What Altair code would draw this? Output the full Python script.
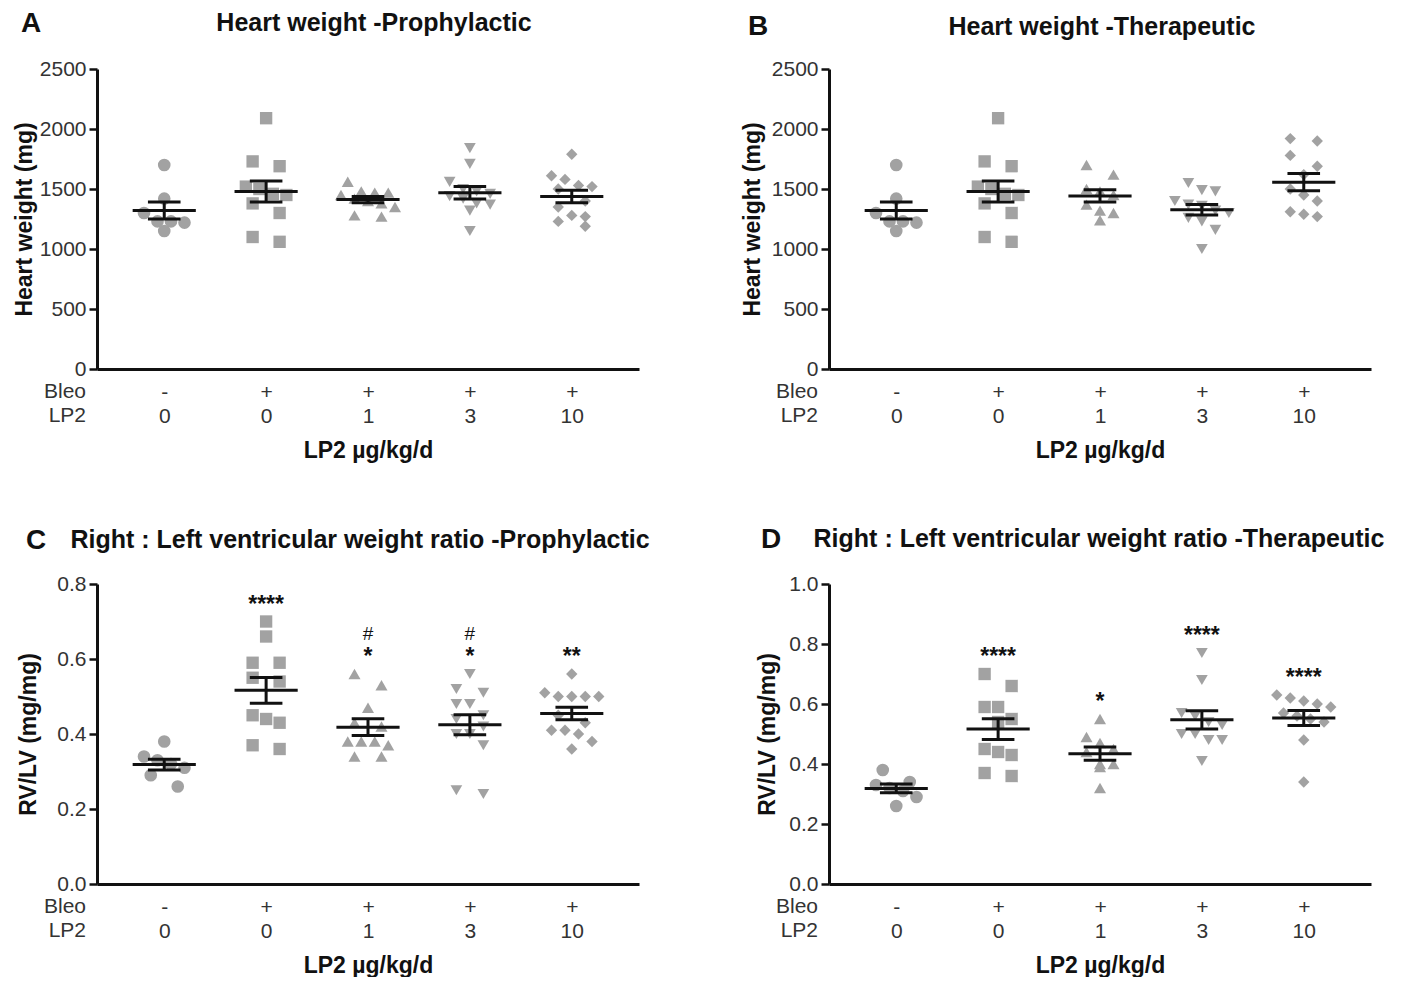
import json
import altair as alt
import pandas as pd

# ---------------- data ----------------
bleo_labels = ["-", "+", "+", "+", "+"]
lp2_labels = ["0", "0", "1", "3", "10"]
group_shapes = ["circle", "square", "triangle-up", "triangle-down", "diamond"]

hw_prophylactic = [
    [1700, 1420, 1300, 1230, 1230, 1220, 1150],
    [2090, 1730, 1690, 1520, 1500, 1460, 1450, 1380, 1300, 1100, 1060],
    [1560, 1480, 1470, 1470, 1450, 1420, 1400, 1380, 1350, 1280, 1270],
    [1840, 1710, 1560, 1500, 1480, 1460, 1440, 1420, 1380, 1370, 1320, 1150],
    [1790, 1610, 1580, 1530, 1520, 1500, 1400, 1350, 1280, 1270, 1230, 1190],
]
hw_therapeutic = [
    [1700, 1420, 1300, 1230, 1230, 1220, 1150],
    [2090, 1730, 1690, 1520, 1500, 1460, 1450, 1380, 1300, 1100, 1060],
    [1700, 1620, 1500, 1480, 1450, 1370, 1320, 1300, 1240],
    [1550, 1490, 1480, 1400, 1370, 1360, 1320, 1300, 1260, 1230, 1160, 1000],
    [1920, 1900, 1780, 1690, 1620, 1500, 1450, 1400, 1310, 1290, 1270],
]
rvlv_prophylactic = [
    [0.38, 0.34, 0.33, 0.32, 0.31, 0.29, 0.26],
    [0.70, 0.66, 0.59, 0.59, 0.55, 0.54, 0.45, 0.44, 0.43, 0.37, 0.36],
    [0.56, 0.53, 0.47, 0.43, 0.42, 0.38, 0.38, 0.38, 0.37, 0.34, 0.34],
    [0.56, 0.52, 0.51, 0.48, 0.48, 0.45, 0.44, 0.42, 0.40, 0.40, 0.37, 0.25, 0.24],
    [0.56, 0.51, 0.50, 0.50, 0.50, 0.50, 0.45, 0.43, 0.41, 0.41, 0.40, 0.38, 0.36],
]
rvlv_therapeutic = [
    [0.38, 0.34, 0.33, 0.32, 0.31, 0.29, 0.26],
    [0.70, 0.66, 0.59, 0.59, 0.55, 0.54, 0.45, 0.44, 0.43, 0.37, 0.36],
    [0.55, 0.49, 0.47, 0.45, 0.44, 0.40, 0.40, 0.39, 0.32],
    [0.77, 0.68, 0.57, 0.56, 0.54, 0.53, 0.50, 0.50, 0.48, 0.48, 0.41],
    [0.63, 0.62, 0.61, 0.60, 0.59, 0.57, 0.56, 0.55, 0.54, 0.48, 0.34],
]
# significance marks: (group, text, level above the group's highest point)
ann_rvlv_prophylactic = [(1, "****", 0), (2, "*", 0), (2, "#", 1), (3, "*", 0), (3, "#", 1), (4, "**", 0)]
ann_rvlv_therapeutic = [(1, "****", 0), (2, "*", 0), (3, "****", 0), (4, "****", 0)]

# ---------------- layout constants ----------------
W, H = 542, 300
XDOM = [-0.66, 4.66]
PX_PER_UNIT = W / (XDOM[1] - XDOM[0])
SLOT = 13.5 / PX_PER_UNIT
FONT = "Liberation Sans"
GREY = "#a2a2a2"
TICK_FS = 21
AXTITLE_FS = 23


def swarm(vals, thr):
    order = sorted(range(len(vals)), key=lambda i: -vals[i])
    bins = []
    for i in order:
        if bins and bins[-1][0] - vals[i] <= thr:
            bins[-1][1].append(i)
        else:
            bins.append([vals[i], [i]])
    slots = [0.0] * len(vals)
    for _, members in bins:
        k = len(members)
        mult = 2.0 if k == 2 else 1.0
        for j, i in enumerate(members):
            slots[i] = (j - (k - 1) / 2) * mult
    return slots


label_expr = "[{b}[datum.value], {l}[datum.value]]".format(
    b=json.dumps(bleo_labels), l=json.dumps(lp2_labels))


def panel(values, ymax, ystep, yfmt, ytitle, title, title_dx, title_dy,
          letter, letter_dx, letter_dy, ytitle_x, ann=None):
    thr = 13 * ymax / H
    rows = []
    for g, vals in enumerate(values):
        for v, s in zip(vals, swarm(vals, thr)):
            rows.append({"g": g, "gname": "g%d" % g, "slot": s, "v": v})
    df = pd.DataFrame(rows)

    xscale = alt.Scale(domain=XDOM, nice=False, zero=False)
    yscale = alt.Scale(domain=[0, ymax], nice=False)
    nt = int(round(ymax / ystep))
    xaxis = alt.Axis(values=[0, 1, 2, 3, 4], labelExpr=label_expr, ticks=False, grid=False,
                     labelLineHeight=24, labelPadding=12, labelFontSize=TICK_FS, labelColor="#333",
                     labelFont=FONT, labelAngle=0,
                     title="LP2 µg/kg/d", titleFontSize=AXTITLE_FS, titleFontWeight="bold",
                     titleColor="#111", titleFont=FONT, titlePadding=13,
                     domainColor="#111", domainWidth=3)
    yaxis = alt.Axis(values=[round(i * ystep, 3) for i in range(nt + 1)], format=yfmt,
                     grid=False, tickSize=8, tickWidth=2.5, tickColor="#111",
                     labelFontSize=TICK_FS, labelColor="#333", labelFont=FONT, labelPadding=3,
                     title=ytitle, titleFontSize=AXTITLE_FS, titleFontWeight="bold", titleColor="#111",
                     titleFont=FONT, titleX=ytitle_x, titleBaseline="middle",
                     domainColor="#111", domainWidth=3)

    base = alt.Chart(df)
    pts = base.transform_calculate(xp="datum.g + datum.slot * %f" % SLOT).mark_point(
        filled=True, opacity=1, color=GREY, strokeWidth=0
    ).encode(
        x=alt.X("xp:Q", scale=xscale, axis=xaxis),
        y=alt.Y("v:Q", scale=yscale, axis=yaxis),
        shape=alt.Shape("gname:N", scale=alt.Scale(domain=["g0", "g1", "g2", "g3", "g4"],
                                                 range=group_shapes), legend=None),
        size=alt.Size("gname:N", scale=alt.Scale(domain=["g0", "g1", "g2", "g3", "g4"],
                                               range=[160, 130, 140, 140, 140]), legend=None),
    )

    summ = base.transform_aggregate(
        m="mean(v)", se="stderr(v)", groupby=["g"]
    ).transform_calculate(
        lo="datum.m - datum.se", hi="datum.m + datum.se",
        a1="datum.g - 0.31", a2="datum.g + 0.31",
        c1="datum.g - 0.16", c2="datum.g + 0.16",
    )
    rule_kw = dict(color="#111", strokeWidth=3)
    mean_line = summ.mark_rule(**rule_kw).encode(
        x=alt.X("a1:Q", scale=xscale, axis=xaxis), x2="a2:Q",
        y=alt.Y("m:Q", scale=yscale, axis=yaxis))
    vbar = summ.mark_rule(**rule_kw).encode(
        x=alt.X("g:Q", scale=xscale, axis=xaxis),
        y=alt.Y("lo:Q", scale=yscale, axis=yaxis), y2="hi:Q")
    cap_lo = summ.mark_rule(**rule_kw).encode(
        x=alt.X("c1:Q", scale=xscale, axis=xaxis), x2="c2:Q",
        y=alt.Y("lo:Q", scale=yscale, axis=yaxis))
    cap_hi = summ.mark_rule(**rule_kw).encode(
        x=alt.X("c1:Q", scale=xscale, axis=xaxis), x2="c2:Q",
        y=alt.Y("hi:Q", scale=yscale, axis=yaxis))

    one = pd.DataFrame({"k": [0]})
    row_labels = alt.Chart(one).mark_text(
        align="right", baseline="top", fontSize=TICK_FS, font=FONT, color="#333", lineHeight=24
    ).encode(x=alt.value(-11), y=alt.value(H + 12), text=alt.value(["Bleo", "LP2"]))
    letter_mark = alt.Chart(one).mark_text(
        align="left", baseline="middle", fontSize=28, fontWeight="bold", font=FONT, color="#111"
    ).encode(x=alt.value(letter_dx), y=alt.value(letter_dy), text=alt.value(letter))
    title_mark = alt.Chart(one).mark_text(
        align="center", baseline="middle", fontSize=25, fontWeight="bold", font=FONT, color="#111"
    ).encode(x=alt.value(W / 2 + title_dx), y=alt.value(title_dy), text=alt.value(title))

    layers = [pts, mean_line, vbar, cap_lo, cap_hi, row_labels, letter_mark, title_mark]

    if ann:
        arows = []
        for g, txt, lvl in ann:
            arows.append({"g": g, "txt": txt, "lvl": lvl, "top": max(values[g])})
        adf = pd.DataFrame(arows)
        star = alt.Chart(adf).transform_filter("datum.lvl == 0").mark_text(
            baseline="alphabetic", fontSize=23, fontWeight="bold", font=FONT, color="#111", dy=-10
        ).encode(x=alt.X("g:Q", scale=xscale, axis=xaxis),
                 y=alt.Y("top:Q", scale=yscale, axis=yaxis), text="txt:N")
        hash_ = alt.Chart(adf).transform_filter("datum.lvl == 1").mark_text(
            baseline="alphabetic", fontSize=19, font=FONT, color="#111", dy=-34
        ).encode(x=alt.X("g:Q", scale=xscale, axis=xaxis),
                 y=alt.Y("top:Q", scale=yscale, axis=yaxis), text="txt:N")
        layers += [star, hash_]

    return alt.layer(*layers).properties(width=W, height=H)


pA = panel(hw_prophylactic, 2500, 500, "d", "Heart weight (mg)",
           "Heart weight -Prophylactic", 6, -46, "A", -76, -45, -73)
pB = panel(hw_therapeutic, 2500, 500, "d", "Heart weight (mg)",
           "Heart weight -Therapeutic", 2, -42, "B", -81, -42, -77)
pC = panel(rvlv_prophylactic, 0.8, 0.2, ".1f", "RV/LV (mg/mg)",
           "Right : Left ventricular weight ratio -Prophylactic", -8, -44, "C", -71, -43, -69,
           ann_rvlv_prophylactic)
pD = panel(rvlv_therapeutic, 1.0, 0.2, ".1f", "RV/LV (mg/mg)",
           "Right : Left ventricular weight ratio -Therapeutic", -1, -45, "D", -68, -44, -62,
           ann_rvlv_therapeutic)

chart = alt.concat(
    pA, pB, pC, pD, columns=2, bounds="flush", spacing={"row": 215, "column": 190}
).properties(
    padding={"left": 5, "top": 2, "right": 5, "bottom": 0}
).configure(font=FONT).configure_view(stroke=None)

chart.save("out.html", embed_options={"renderer": "svg", "actions": False})
